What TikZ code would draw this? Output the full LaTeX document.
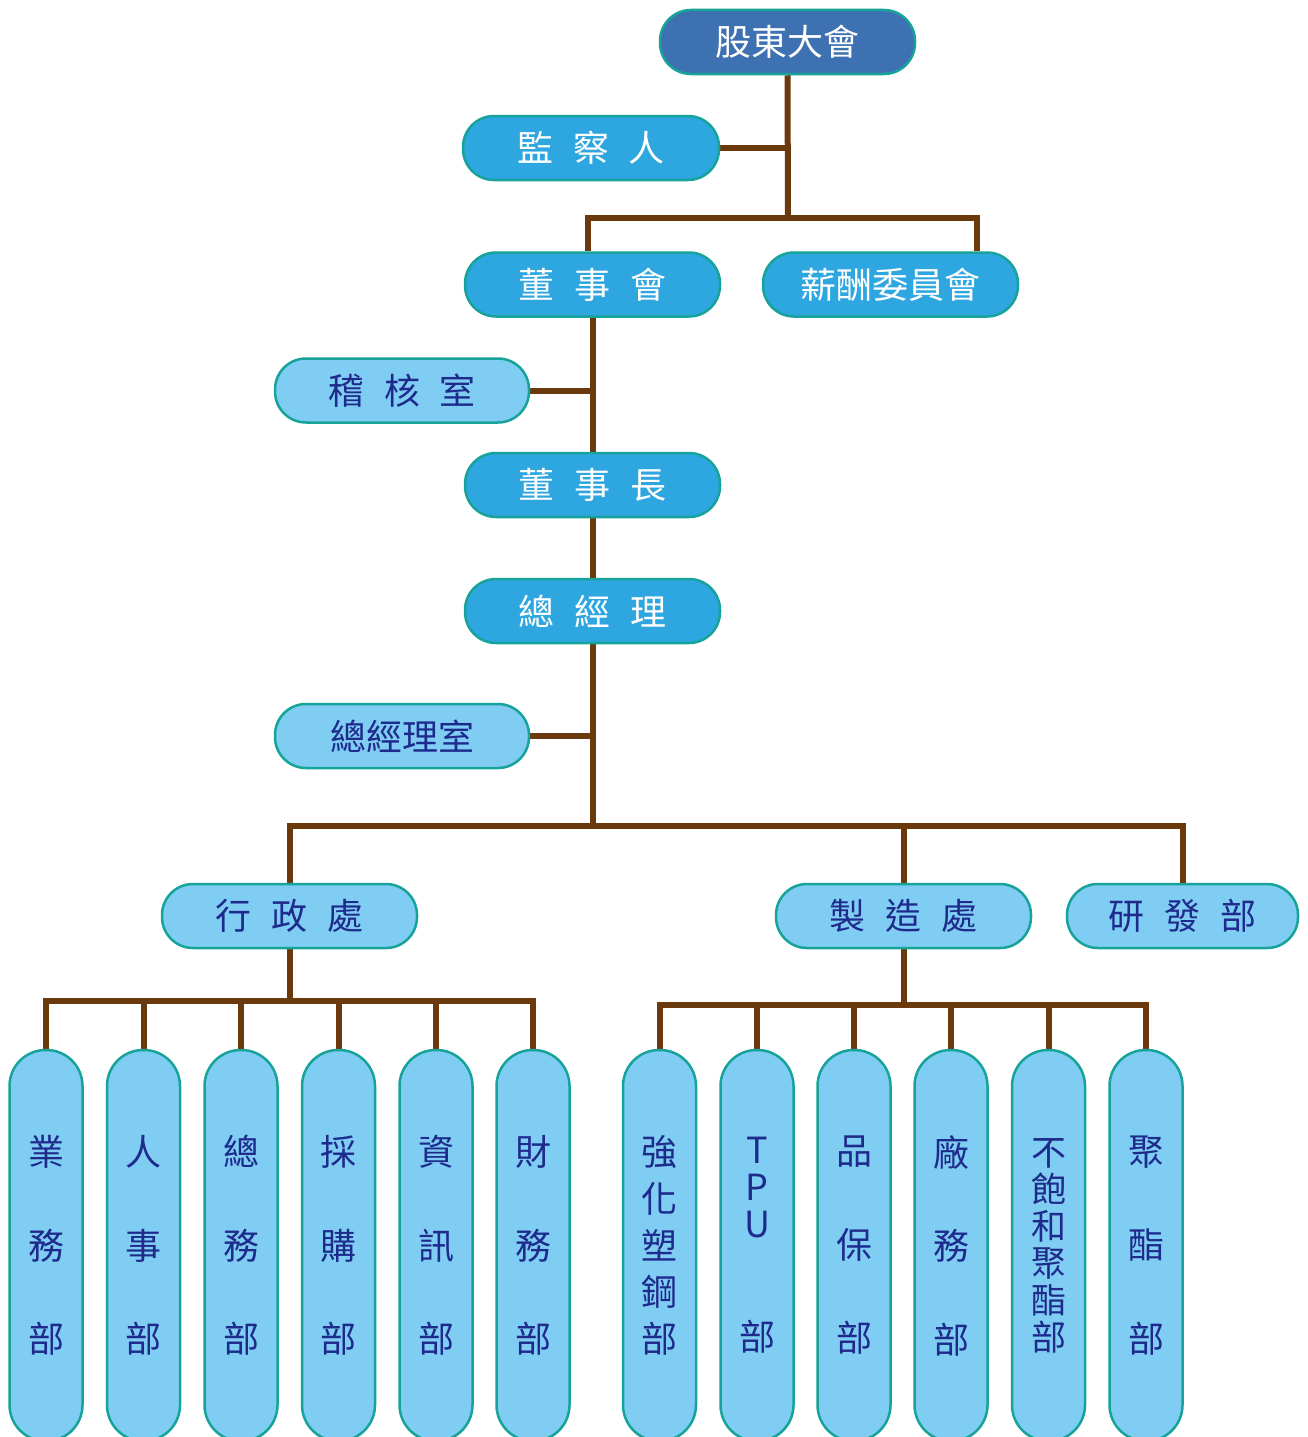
\documentclass[tikz,border=0pt]{standalone}
\usepackage{fontspec}
\newfontfamily\cjk{Noto Sans CJK TC}
\usetikzlibrary{backgrounds}
\definecolor{boxdark}{HTML}{3D71B1}
\definecolor{boxmid}{HTML}{2EA6E0}
\definecolor{boxlight}{HTML}{7FCDF2}
\definecolor{boxedge}{HTML}{17A39A}
\definecolor{txtnavy}{HTML}{1E2A8C}
\definecolor{linkbrown}{HTML}{6B3A0C}
\newcommand{\chgap}{\hspace{0.55em}}
\tikzset{
  hbox/.style={draw=boxedge, line width=2.5pt, rounded corners=31pt, minimum height=64pt, inner sep=0pt, font=\cjk\fontsize{36}{40}\selectfont},
  topbox/.style={hbox, fill=boxdark, text=white, minimum width=255pt},
  midbox/.style={hbox, fill=boxmid, text=white, minimum width=255pt},
  lightbox/.style={hbox, fill=boxlight, text=txtnavy, minimum width=254pt},
  vbox/.style={draw=boxedge, line width=2.5pt, rounded corners=36pt, minimum width=73pt, minimum height=391pt, inner sep=0pt, fill=boxlight, text=txtnavy, align=center},
  vthree/.style={vbox, font=\cjk\fontsize{36}{93.5}\selectfont},
  vfive/.style={vbox, font=\cjk\fontsize{36}{46.8}\selectfont},
  vsix/.style={vbox, font=\cjk\fontsize{35}{37}\selectfont},
  link/.style={draw=linkbrown, line width=6pt, line join=miter}
}
\begin{document}
\begin{tikzpicture}[x=1pt,y=-1pt]
\useasboundingbox (0,0) rectangle (1307,1437);
\clip (0,0) rectangle (1307,1437);
% top levels
\node[topbox] (sh) at (787.5,42) {股東大會};
\node[midbox, minimum width=256pt] (jc) at (591,148) {監\chgap 察\chgap 人};
\node[midbox] (dsh) at (592.5,284.5) {董\chgap 事\chgap 會};
\node[midbox] (xc) at (890.5,284.5) {薪酬委員會};
\node[lightbox] (jh) at (402,390.5) {稽\chgap 核\chgap 室};
\node[midbox] (dsz) at (592.5,485) {董\chgap 事\chgap 長};
\node[midbox] (zjl) at (592.5,611) {總\chgap 經\chgap 理};
\node[lightbox] (zjls) at (402,736) {總經理室};
\node[lightbox, minimum width=255pt] (xz) at (289.5,916) {行\chgap 政\chgap 處};
\node[lightbox, minimum width=255pt] (zz) at (903.5,916) {製\chgap 造\chgap 處};
\node[lightbox, minimum width=231pt] (yf) at (1182.5,916) {研\chgap 發\chgap 部};
% bottom departments
\node[vthree] (a1) at (46,1245.5) {業\\務\\部};
\node[vthree] (a2) at (143.5,1245.5) {人\\事\\部};
\node[vthree] (a3) at (241,1245.5) {總\\務\\部};
\node[vthree] (a4) at (338.5,1245.5) {採\\購\\部};
\node[vthree] (a5) at (436,1245.5) {資\\訊\\部};
\node[vthree] (a6) at (533,1245.5) {財\\務\\部};
\node[vfive] (b1) at (659.5,1245.5) {強\\化\\塑\\鋼\\部};
\node[vbox, font=\cjk\fontsize{36}{37}\selectfont] (b2) at (757,1245.5) {T\\P\\U\\[76pt]部};
\node[vthree] (b3) at (854,1245.5) {品\\保\\部};
\node[vthree] (b4) at (951,1245.5) {廠\\務\\部};
\node[vsix] (b5) at (1048.5,1245.5) {不\\飽\\和\\聚\\酯\\部};
\node[vthree] (b6) at (1146,1245.5) {聚\\酯\\部};
% junction coordinates
\coordinate (j1) at (788,218);
\coordinate (d1) at (588,218);
\coordinate (d2) at (977,218);
\coordinate (k1) at (592.5,826);
\coordinate (m1) at (289.5,1001);
\coordinate (m2) at (903.5,1005);
\begin{scope}[on background layer]
\draw[link] (sh.south) -- (j1);
\draw[link] (jc.east) -- (jc.east -| j1);
\draw[link] (d1 |- dsh.north) -- (d1) -- (d2) -- (d2 |- xc.north);
\draw[link] (dsh.south) -- (dsz.north);
\draw[link] (jh.east) -- (jh.east -| dsh.south);
\draw[link] (dsz.south) -- (zjl.north);
\draw[link] (zjl.south) -- (k1);
\draw[link] (zjls.east) -- (zjls.east -| zjl.south);
\draw[link] (xz.north) |- (k1) -| (yf.north);
\draw[link] (zz.north) -- (zz.north |- k1);
\draw[link] (xz.south) -- (m1);
\draw[link] (a1.north) |- (m1) -| (a6.north);
\foreach \n in {a2,a3,a4,a5} \draw[link] (\n.north) -- (\n.north |- m1);
\draw[link] (zz.south) -- (m2);
\draw[link] (b1.north) |- (m2) -| (b6.north);
\foreach \n in {b2,b3,b4,b5} \draw[link] (\n.north) -- (\n.north |- m2);
\end{scope}
\end{tikzpicture}
\end{document}
